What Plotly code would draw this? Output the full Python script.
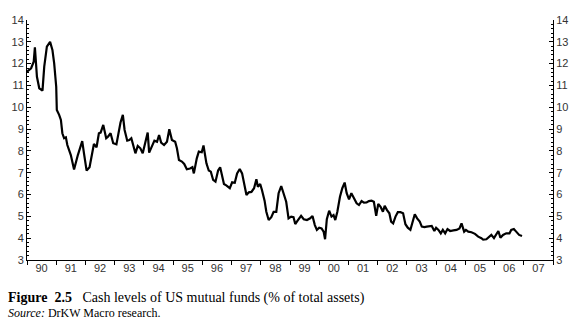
import plotly.graph_objects as go

years = [1990.00, 1990.14, 1990.23, 1990.27, 1990.34, 1990.42, 1990.53, 1990.59, 1990.68, 1990.79,
         1990.87, 1990.93, 1991.00, 1991.02, 1991.10, 1991.16, 1991.21, 1991.27, 1991.33, 1991.38,
         1991.50, 1991.61, 1991.74, 1991.89, 1991.95, 1992.04, 1992.14, 1992.23, 1992.29, 1992.38,
         1992.46, 1992.52, 1992.61, 1992.71, 1992.77, 1992.86, 1992.95, 1993.06, 1993.14, 1993.20,
         1993.28, 1993.34, 1993.43, 1993.50, 1993.57, 1993.65, 1993.71, 1993.79, 1993.88, 1993.96,
         1994.05, 1994.13, 1994.18, 1994.28, 1994.36, 1994.45, 1994.52, 1994.59, 1994.69, 1994.79,
         1994.87, 1994.96, 1995.07, 1995.13, 1995.20, 1995.30, 1995.38, 1995.47, 1995.58, 1995.66,
         1995.71, 1995.81, 1995.88, 1995.98, 1996.04, 1996.14, 1996.22, 1996.29, 1996.37, 1996.45,
         1996.54, 1996.61, 1996.68, 1996.74, 1996.83, 1996.94, 1997.02, 1997.11, 1997.19, 1997.28,
         1997.36, 1997.43, 1997.51, 1997.59, 1997.68, 1997.77, 1997.85, 1997.90, 1997.98, 1998.04,
         1998.13, 1998.19, 1998.27, 1998.36, 1998.44, 1998.53, 1998.61, 1998.70, 1998.79, 1998.87,
         1998.95, 1999.04, 1999.12, 1999.18, 1999.26, 1999.38, 1999.47, 1999.58, 1999.69, 1999.77,
         1999.85, 1999.92, 2000.00, 2000.08, 2000.15, 2000.20, 2000.26, 2000.34, 2000.42, 2000.49,
         2000.55, 2000.62, 2000.71, 2000.79, 2000.87, 2000.94, 2001.02, 2001.10, 2001.19, 2001.28,
         2001.36, 2001.45, 2001.53, 2001.62, 2001.70, 2001.79, 2001.87, 2001.95, 2002.02, 2002.10,
         2002.18, 2002.24, 2002.32, 2002.40, 2002.46, 2002.53, 2002.61, 2002.69, 2002.78, 2002.87,
         2002.95, 2003.03, 2003.12, 2003.20, 2003.27, 2003.35, 2003.44, 2003.51, 2003.60, 2003.68,
         2003.78, 2003.85, 2003.94, 2004.00, 2004.08, 2004.16, 2004.23, 2004.31, 2004.39, 2004.48,
         2004.59, 2004.70, 2004.80, 2004.87, 2004.96, 2005.02, 2005.10, 2005.21, 2005.33, 2005.44,
         2005.55, 2005.61, 2005.72, 2005.82, 2005.89, 2005.98, 2006.06, 2006.13, 2006.20, 2006.29,
         2006.40, 2006.51, 2006.57, 2006.66, 2006.74, 2006.84, 2006.94]

cash_pct = [11.63, 11.79, 12.09, 12.75, 11.40, 10.87, 10.76, 11.86, 12.78, 13.00,
            12.63, 12.01, 10.94, 9.88, 9.65, 9.42, 8.81, 8.58, 8.62, 8.27,
            7.81, 7.15, 7.81, 8.45, 7.89, 7.10, 7.25, 7.89, 8.32, 8.17,
            8.81, 8.84, 9.19, 8.58, 8.65, 8.81, 8.35, 8.30, 8.88, 9.30,
            9.65, 8.96, 8.47, 8.50, 8.58, 8.19, 7.89, 8.23, 8.12, 7.89,
            8.35, 8.84, 7.92, 8.19, 8.47, 8.42, 8.73, 8.38, 8.27, 8.42,
            8.99, 8.50, 8.42, 8.12, 7.58, 7.51, 7.40, 7.16, 7.19, 7.25,
            6.97, 7.66, 7.97, 7.94, 8.25, 7.43, 7.10, 7.05, 6.67, 6.59,
            7.10, 7.25, 6.74, 6.48, 6.41, 6.29, 6.56, 6.54, 6.97, 7.17,
            6.97, 6.52, 5.98, 6.10, 6.12, 6.29, 6.70, 6.36, 6.48, 6.21,
            5.72, 5.21, 4.83, 4.96, 5.21, 5.21, 6.06, 6.39, 6.06, 5.67,
            4.91, 4.99, 4.96, 4.65, 4.80, 5.02, 4.87, 4.83, 4.91, 5.02,
            4.60, 4.38, 4.48, 4.45, 4.30, 3.95, 4.87, 5.26, 4.99, 5.06,
            4.83, 5.21, 5.90, 6.29, 6.55, 6.06, 5.78, 6.06, 5.83, 5.60,
            5.52, 5.70, 5.63, 5.64, 5.70, 5.72, 5.67, 5.02, 5.57, 5.44,
            5.21, 5.48, 5.29, 5.14, 4.76, 4.68, 4.99, 5.19, 5.19, 5.14,
            4.64, 4.48, 4.38, 4.76, 5.10, 4.91, 4.76, 4.53, 4.51, 4.53,
            4.53, 4.56, 4.33, 4.48, 4.38, 4.22, 4.38, 4.22, 4.42, 4.33,
            4.36, 4.38, 4.45, 4.68, 4.30, 4.38, 4.30, 4.27, 4.20, 4.07,
            4.00, 3.93, 3.95, 4.07, 4.15, 4.00, 4.15, 4.33, 4.02, 4.15,
            4.22, 4.22, 4.38, 4.42, 4.30, 4.15, 4.10]

year_ticks = list(range(1990, 2009))
year_label_pos = [y + 0.5 for y in range(1990, 2008)]
year_labels = ["90", "91", "92", "93", "94", "95", "96", "97", "98", "99",
               "00", "01", "02", "03", "04", "05", "06", "07"]
y_ticks = list(range(3, 15))

caption_main = "<b>Figure\u00a0\u00a02.5</b>\u00a0\u00a0\u00a0Cash levels of US mutual funds (% of total assets)"
caption_source = "<i>Source:</i> DrKW Macro research."

tick_font = dict(family="Liberation Sans, Arial, sans-serif", size=11, color="#333333")

fig = go.Figure()
fig.add_trace(go.Scatter(x=years, y=cash_pct, mode="lines",
                         line=dict(color="black", width=2.2), showlegend=False,
                         xaxis="x", yaxis="y"))
# invisible trace to activate right axis
fig.add_trace(go.Scatter(x=[years[0]], y=[cash_pct[0]], mode="markers",
                         marker=dict(opacity=0), showlegend=False, hoverinfo="skip",
                         xaxis="x", yaxis="y2"))
# invisible trace so xaxis2 labels render
fig.add_trace(go.Scatter(x=[years[0]], y=[cash_pct[0]], mode="markers",
                         marker=dict(opacity=0), showlegend=False, hoverinfo="skip",
                         xaxis="x2", yaxis="y"))

fig.update_layout(
    width=580, height=325,
    margin=dict(l=26, r=25, t=20, b=65),
    paper_bgcolor="white", plot_bgcolor="white",
    xaxis=dict(range=[1990, 2008], tickvals=year_ticks, showticklabels=False,
               ticks="outside", ticklen=4, tickcolor="black", tickwidth=1,
               showline=True, linecolor="black", linewidth=1, showgrid=False,
               zeroline=False),
    xaxis2=dict(range=[1990, 2008], overlaying="x", side="bottom", anchor="y",
                tickvals=year_label_pos, ticktext=year_labels, ticks="",
                showline=False, showgrid=False, zeroline=False, tickfont=tick_font),
    yaxis=dict(range=[3, 14], tickvals=y_ticks, ticks="inside", ticklen=4,
               tickcolor="black", showline=True, linecolor="black", linewidth=1,
               showgrid=False, zeroline=False, tickfont=tick_font,
               minor=dict(ticks="inside", ticklen=2, dtick=0.2, tick0=3,
                          tickcolor="black", showgrid=False)),
    yaxis2=dict(range=[3, 14], tickvals=y_ticks, overlaying="y", side="right",
                anchor="x", ticks="inside", ticklen=4, tickcolor="black",
                showline=True, linecolor="black", linewidth=1, showgrid=False,
                zeroline=False, tickfont=tick_font,
                minor=dict(ticks="inside", ticklen=2, dtick=0.2, tick0=3,
                           tickcolor="black", showgrid=False)),
    annotations=[
        dict(text=caption_main, xref="paper", yref="paper", x=-0.04, y=-0.158,
             xanchor="left", yanchor="middle", showarrow=False,
             font=dict(family="Liberation Serif, Times New Roman, serif", size=14, color="black")),
        dict(text=caption_source, xref="paper", yref="paper", x=-0.04, y=-0.222,
             xanchor="left", yanchor="middle", showarrow=False,
             font=dict(family="Liberation Serif, Times New Roman, serif", size=12, color="black")),
    ],
)

fig.write_html("out.html")
